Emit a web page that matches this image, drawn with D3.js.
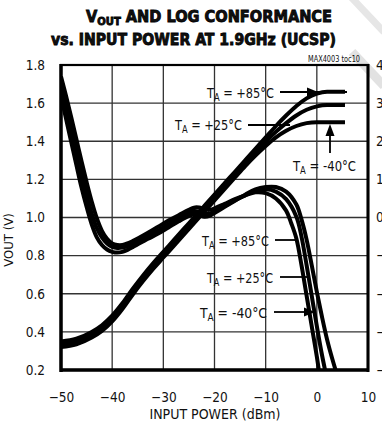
<!DOCTYPE html>
<html><head><meta charset="utf-8">
<script src="https://cdn.jsdelivr.net/npm/d3@7"></script>
<style>
body{margin:0;background:#fff;}
svg{display:block;}
text{font-family:"DejaVu Sans Condensed","Liberation Sans Narrow",sans-serif;fill:#111;}
</style></head>
<body>
<svg id="c" width="382" height="425"></svg>
<script>
// ---------- DATA ----------
const xTicks = [-50, -40, -30, -20, -10, 0, 10];
const yTicks = [0.2, 0.4, 0.6, 0.8, 1.0, 1.2, 1.4, 1.6, 1.8];
const yTickLabels = ["0.2", "0.4", "0.6", "0.8", "1.0", "1.2", "1.4", "1.6", "1.8"];
const rTicks = [-4, -3, -2, -1, 0, 1, 2, 3, 4];

// VOUT (V) vs input power (dBm)
const voutM40 = [[-50,0.32],[-47,0.335],[-44,0.37],[-42,0.405],[-40,0.455],[-38,0.52],[-36,0.595],[-34,0.665],[-32,0.73],[-30,0.79],[-28,0.85],[-26,0.91],[-24,0.97],[-22,1.03],[-20,1.09],[-18,1.15],[-16,1.21],[-14,1.27],[-12,1.325],[-10,1.375],[-8,1.42],[-6,1.455],[-4,1.48],[-2,1.495],[0,1.5],[5.5,1.5]];
const vout25 = [[-50,0.335],[-47,0.35],[-44,0.385],[-42,0.42],[-40,0.47],[-38,0.535],[-36,0.61],[-34,0.68],[-32,0.745],[-30,0.805],[-28,0.865],[-26,0.925],[-24,0.985],[-22,1.045],[-20,1.105],[-18,1.165],[-16,1.225],[-14,1.285],[-12,1.345],[-10,1.40],[-8,1.45],[-6,1.495],[-4,1.535],[-2,1.565],[0,1.583],[2,1.59],[5.5,1.59]];
const vout85 = [[-50,0.35],[-47,0.365],[-44,0.4],[-42,0.435],[-40,0.485],[-38,0.55],[-36,0.625],[-34,0.695],[-32,0.76],[-30,0.82],[-28,0.88],[-26,0.94],[-24,1.0],[-22,1.06],[-20,1.12],[-18,1.18],[-16,1.24],[-14,1.3],[-12,1.36],[-10,1.42],[-8,1.48],[-6,1.535],[-4,1.585],[-2,1.625],[0,1.65],[2,1.66],[5.5,1.66]];

// Log conformance (dB) vs input power (dBm)
const conf85 = [[-50,3.7],[-49,3.18],[-48,2.63],[-47,2.06],[-46,1.48],[-45,0.93],[-44,0.42],[-43,-0.02],[-42,-0.35],[-41,-0.56],[-40,-0.68],[-39,-0.72],[-38,-0.72],[-37,-0.68],[-36,-0.62],[-35,-0.55],[-33,-0.4],[-31,-0.24],[-29,-0.08],[-27,0.06],[-25,0.2],[-24,0.26],[-23,0.26],[-22,0.22],[-21,0.2],[-20,0.24],[-18,0.36],[-16,0.48],[-14,0.58],[-12,0.66],[-10,0.64],[-8,0.5],[-6,0.18],[-5,-0.15],[-4,-0.55],[-3,-1.25],[-2,-2.05],[-1,-2.85],[0,-3.65],[0.6,-4.2]];
const conf25 = [[-50,3.45],[-49,2.88],[-48,2.3],[-47,1.72],[-46,1.13],[-45,0.59],[-44,0.1],[-43,-0.28],[-42,-0.52],[-41,-0.68],[-40,-0.77],[-39,-0.8],[-38,-0.79],[-37,-0.75],[-36,-0.69],[-35,-0.62],[-33,-0.48],[-31,-0.34],[-29,-0.18],[-27,-0.02],[-25,0.12],[-24,0.17],[-23,0.15],[-22,0.1],[-21,0.1],[-20,0.16],[-18,0.3],[-16,0.45],[-14,0.58],[-12,0.7],[-10,0.74],[-8,0.68],[-6,0.48],[-4,0.02],[-3,-0.5],[-2,-1.25],[-1,-2.05],[0,-2.85],[1,-3.6],[2,-4.25]];
const confM40 = [[-50,3.2],[-49,2.58],[-48,1.98],[-47,1.38],[-46,0.79],[-45,0.28],[-44,-0.18],[-43,-0.52],[-42,-0.72],[-41,-0.84],[-40,-0.9],[-39,-0.92],[-38,-0.9],[-37,-0.85],[-36,-0.78],[-35,-0.7],[-33,-0.56],[-31,-0.42],[-29,-0.26],[-27,-0.1],[-25,0.04],[-24,0.08],[-23,0.06],[-22,0.02],[-21,0.04],[-20,0.12],[-18,0.28],[-16,0.44],[-14,0.6],[-12,0.74],[-10,0.8],[-8,0.8],[-6,0.68],[-4,0.34],[-3,-0.05],[-2,-0.58],[-1,-1.25],[0,-1.95],[1,-2.6],[2,-3.2],[3,-3.7],[4,-4.15]];

// ---------- CHART ----------
const svg = d3.select("#c");
const L = 61, R = 368, T = 65, B = 370;
const x = d3.scaleLinear().domain([-50, 10]).range([L, R]);
const y = d3.scaleLinear().domain([0.2, 1.8]).range([B, T]);
const yR = d3.scaleLinear().domain([-4, 4]).range([B, T]);

// watermark band
svg.append("line").attr("x1", 352).attr("y1", 52).attr("x2", 384).attr("y2", 86)
  .attr("stroke", "#e2e2e2").attr("stroke-width", 9);
svg.append("line").attr("x1", 350).attr("y1", -4).attr("x2", 384).attr("y2", 32)
  .attr("stroke", "#e6e6e6").attr("stroke-width", 7);

// grid
const grid = svg.append("g").attr("stroke", "#333").attr("stroke-width", 1.3);
grid.selectAll("line.v").data(xTicks.slice(1, -1)).join("line")
  .attr("x1", d => x(d)).attr("x2", d => x(d)).attr("y1", T).attr("y2", B);
grid.selectAll("line.h").data(yTicks.slice(1, -1)).join("line")
  .attr("y1", d => y(d)).attr("y2", d => y(d)).attr("x1", L).attr("x2", R);

// axes (labels via d3 axes)
const axL = d3.axisLeft(y).tickValues(yTicks).tickFormat((d, i) => yTickLabels[i]).tickSize(0).tickPadding(16);
const gL = svg.append("g").attr("transform", `translate(${L},0)`).call(axL);
const axB = d3.axisBottom(x).tickValues(xTicks).tickFormat(d3.format("d")).tickSize(0).tickPadding(22);
const gB = svg.append("g").attr("transform", `translate(0,${B})`).call(axB);
const axR = d3.axisRight(yR).tickValues(rTicks).tickFormat(d3.format("d")).tickSize(0).tickPadding(8);
const gR = svg.append("g").attr("transform", `translate(${R},0)`).call(axR);
[gL, gB, gR].forEach(g => {
  g.select(".domain").remove();
  g.selectAll("text").attr("font-size", 13.5).attr("fill", "#111")
    .attr("font-family", '"DejaVu Sans Condensed",sans-serif');
});

// frame
svg.append("rect").attr("x", L).attr("y", T).attr("width", R - L).attr("height", B - T)
  .attr("fill", "none").attr("stroke", "#000").attr("stroke-width", 2.2);
svg.append("line").attr("x1", L).attr("x2", L).attr("y1", T - 1).attr("y2", B + 2).attr("stroke", "#000").attr("stroke-width", 3.5);
svg.append("line").attr("x1", L - 1).attr("x2", R + 1).attr("y1", B).attr("y2", B).attr("stroke", "#000").attr("stroke-width", 3.5);
svg.append("line").attr("x1", R).attr("x2", R).attr("y1", T - 1).attr("y2", B + 2).attr("stroke", "#000").attr("stroke-width", 3);

// clip
svg.append("clipPath").attr("id", "clip").append("rect")
  .attr("x", L).attr("y", T).attr("width", R - L).attr("height", B - T);
const plot = svg.append("g").attr("clip-path", "url(#clip)");

const lineV = d3.line().x(d => x(d[0])).y(d => y(d[1])).curve(d3.curveMonotoneX);
const lineC = d3.line().x(d => x(d[0])).y(d => yR(d[1])).curve(d3.curveCatmullRom.alpha(0.5));

[voutM40, vout25, vout85].forEach(s => plot.append("path").attr("d", lineV(s))
  .attr("fill", "none").attr("stroke", "#000").attr("stroke-width", 4));
[confM40, conf25, conf85].forEach(s => plot.append("path").attr("d", lineC(s))
  .attr("fill", "none").attr("stroke", "#000").attr("stroke-width", 4));

// annotations
function label(tx, ty, sign, w) {
  const t = svg.append("text").attr("x", tx).attr("y", ty).attr("font-size", 14.5)
    .attr("textLength", w).attr("lengthAdjust", "spacingAndGlyphs");
  t.append("tspan").text("T");
  t.append("tspan").attr("font-size", 10.5).attr("dy", 3).text("A");
  t.append("tspan").attr("dy", -3).text(" = " + sign + "°C");
}
function hline(x1, x2, yy) {
  svg.append("line").attr("x1", x1).attr("x2", x2).attr("y1", yy).attr("y2", yy)
    .attr("stroke", "#000").attr("stroke-width", 1.8);
}
function arrowRight(xt, yy) {
  svg.append("path").attr("d", `M${xt},${yy} L${xt - 11},${yy - 4.5} L${xt - 11},${yy + 4.5} Z`).attr("fill", "#000");
}
function arrowUp(xx, yt) {
  svg.append("path").attr("d", `M${xx},${yt} L${xx - 4.5},${yt + 12} L${xx + 4.5},${yt + 12} Z`).attr("fill", "#000");
}
label(207, 98, "+85", 67); hline(280, 347, 92); arrowRight(318, 92);
label(175, 130, "+25", 67); hline(248, 290, 125);
label(293, 171, "-40", 63); svg.append("line").attr("x1", 330).attr("x2", 330).attr("y1", 153).attr("y2", 128)
  .attr("stroke", "#000").attr("stroke-width", 1.8); arrowUp(330, 124);

label(202, 246, "+85", 67); hline(275, 298, 240);
label(207, 283, "+25", 66); hline(280, 307, 277);
label(200, 318, "-40", 67); hline(274, 305, 312); arrowRight(315, 312);

// titles
const t1 = svg.append("text").attr("x", 86).attr("y", 22).attr("font-size", 16).attr("font-weight", 900)
  .attr("stroke", "#000").attr("stroke-width", 0.8)
  .attr("textLength", 246).attr("lengthAdjust", "spacingAndGlyphs")
  .attr("font-family", '"DejaVu Sans Condensed","DejaVu Sans",sans-serif');
t1.append("tspan").text("V");
t1.append("tspan").attr("font-size", 11).attr("dy", 3).text("OUT");
t1.append("tspan").attr("dy", -3).text(" AND LOG CONFORMANCE");
svg.append("text").attr("x", 51).attr("y", 45).attr("font-size", 16).attr("font-weight", 900)
  .attr("stroke", "#000").attr("stroke-width", 0.8)
  .attr("textLength", 285).attr("lengthAdjust", "spacingAndGlyphs")
  .attr("font-family", '"DejaVu Sans Condensed","DejaVu Sans",sans-serif')
  .text("vs. INPUT POWER AT 1.9GHz (UCSP)");
svg.append("text").attr("x", 360).attr("y", 62).attr("text-anchor", "end").attr("font-size", 8)
  .attr("textLength", 52).attr("lengthAdjust", "spacingAndGlyphs").text("MAX4003 toc10");

// axis titles
svg.append("text").attr("x", 215).attr("y", 419).attr("text-anchor", "middle").attr("font-size", 14)
  .text("INPUT POWER (dBm)");
const yt = svg.append("text").attr("transform", "translate(13,240) rotate(-90)").attr("text-anchor", "middle").attr("font-size", 13);
yt.append("tspan").text("VOUT (V)");
</script>
</body></html>
